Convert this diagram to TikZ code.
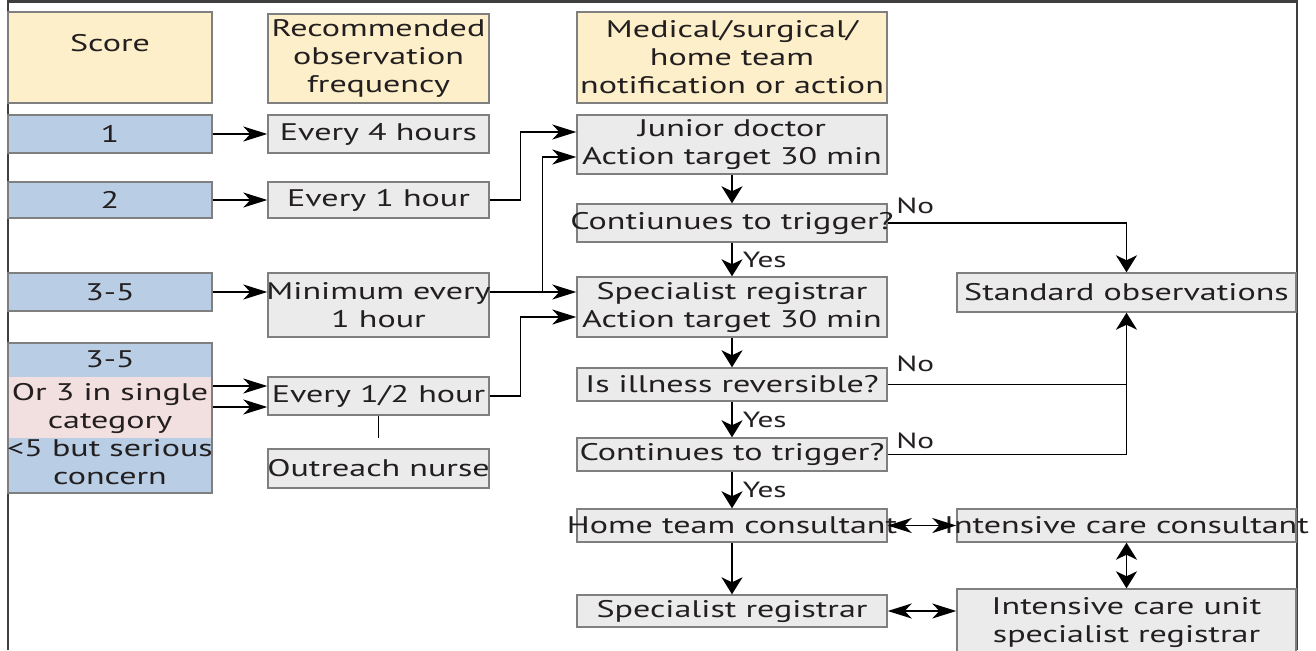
\documentclass[tikz,border=0pt]{standalone}
\usepackage{fontspec}
\setmainfont[FakeStretch=1.42]{PT Sans}
\usetikzlibrary{arrows.meta, calc}
\definecolor{ews0a}{HTML}{EBEBEB}
\definecolor{ews0d}{HTML}{7F7F7F}
\definecolor{ews1a}{HTML}{FDEFC9}
\definecolor{ews2a}{HTML}{B9CEE5}
\definecolor{ews3a}{HTML}{F2DFDF}
\definecolor{ewstx}{HTML}{231F20}

\begin{document}
\begin{tikzpicture}[x=1pt, y=-1pt,
    every node/.style={font=\fontsize{24}{28}\selectfont, text=ewstx, inner sep=0pt, align=center},
    box/.style={draw=ews0d, line width=1.4pt, rectangle, inner xsep=-20pt},
    hdr/.style={box, fill=ews1a},
    score/.style={box, fill=ews2a, minimum width=204pt},
    obs/.style={box, fill=ews0a, minimum width=221pt},
    act/.style={box, fill=ews0a, minimum width=310pt},
    ward/.style={box, fill=ews0a, minimum width=339pt},
    conn/.style={black, line width=1.5pt},
    harr/.style={conn, -{Stealth[length=24pt, width=15pt, inset=7pt]}},
    varr/.style={conn, -{Stealth[length=17pt, width=21pt, inset=5pt]}},
    hbi/.style={conn, {Stealth[length=24pt, width=15pt, inset=7pt]}-{Stealth[length=24pt, width=15pt, inset=7pt]}},
    vbi/.style={conn, {Stealth[length=17pt, width=21pt, inset=5pt]}-{Stealth[length=17pt, width=21pt, inset=5pt]}},
    lbl/.style={font=\fontsize{22}{24}\selectfont, inner sep=2pt}]
    \useasboundingbox (0,0) rectangle (1316,650);
    \draw[ews0d!50!black, line width=2.4pt] (8,650) -- (8,1.5) -- (1297,1.5) -- (1297,650);

    \node[hdr, minimum width=204pt, minimum height=91pt, text depth=30pt] (scorehd) at (110,57.5) {Score};
    \node[hdr, minimum width=221pt, minimum height=89pt] (obshd) at (378.5,58.5) {Recommended\\observation\\frequency};
    \node[hdr, minimum width=310pt, minimum height=91pt] (acthd) at (732,57.5) {Medical/surgical/\\home team\\notification or action};

    \node[score, minimum height=38pt] (s1) at (110,134) {1};
    \node[obs, minimum height=38pt] (f4) at (378.5,134) {Every 4 hours};
    \node[score, minimum height=36pt] (s2) at (110,200) {2};
    \node[obs, minimum height=36pt] (f1) at (378.5,200) {Every 1 hour};
    \node[score, minimum height=38pt] (s3) at (110,292) {3-5};
    \node[obs, minimum height=64pt] (fmin) at (378.5,305) {Minimum every\\1 hour};
    \fill[ews2a] (8,343) rectangle (212,493);
    \fill[ews3a] (8,377) rectangle (212,438);
    \node[box, minimum width=204pt, minimum height=150pt] (s4) at (110,418) {3-5\\[5pt]Or 3 in single\\category\\<5 but serious\\concern};
    \node[obs, minimum height=38pt] (fhalf) at (378.5,396) {Every 1/2 hour};
    \node[obs, minimum height=39pt] (nurse) at (378.5,468.5) {Outreach nurse};

    \node[act, minimum height=59pt] (jd) at (732,144.5) {Junior doctor\\Action target 30 min};
    \node[act, minimum height=38pt] (trig1) at (732,223) {Contiunues to trigger?};
    \node[act, minimum height=60pt] (sr) at (732,307) {Specialist registrar\\Action target 30 min};
    \node[act, minimum height=33pt] (rev) at (732,384.5) {Is illness reversible?};
    \node[act, minimum height=33pt] (trig2) at (732,454.5) {Continues to trigger?};
    \node[act, minimum height=33pt] (home) at (732,525.5) {Home team consultant};
    \node[act, minimum height=32pt] (spec) at (732,611) {Specialist registrar};
    \node[ward, minimum height=39pt] (std) at (1126.5,292.5) {Standard observations};
    \node[ward, minimum height=33pt] (icc) at (1126.5,525.5) {Intensive care consultant};
    \node[ward, minimum height=68pt] (icu) at (1126.5,623) {Intensive care unit\\specialist registrar};

    \coordinate (s4a) at ([yshift=32pt]s4.east);
    \coordinate (s4b) at ([yshift=11pt]s4.east);
    \coordinate (jn) at ($(fmin.east)+(53,0)$);
    \coordinate (jd1) at ([yshift=12.5pt]jd.west);
    \coordinate (jd2) at ([yshift=-12.5pt]jd.west);
    \coordinate (sr2) at ([yshift=-10pt]sr.west);

    \draw[harr] (s1) -- (f4);
    \draw[harr] (s2) -- (f1);
    \draw[harr] (s3) -- (s3 -| fmin.west);
    \draw[harr] (s4a) -- (s4a -| fhalf.west);
    \draw[harr] (s4b) -- (s4b -| fhalf.west);
    \draw[conn] (fhalf.south) -- ++(0,22);

    \draw[harr] (f1.east) -- ++(31,0) |- (jd1);
    \draw[harr] (fmin.east |- s3) -- (sr.west |- s3);
    \draw[harr] (jn |- s3) |- (jd2);
    \draw[harr] (fhalf.east) -- ++(31,0) |- (sr2);

    \draw[varr] (jd) -- (trig1);
    \draw[varr] (trig1) -- node[lbl, anchor=west, xshift=8pt] {Yes} (sr);
    \draw[varr] (sr) -- (rev);
    \draw[varr] (rev) -- node[lbl, anchor=west, xshift=8pt] {Yes} (trig2);
    \draw[varr] (trig2) -- node[lbl, anchor=west, xshift=8pt] {Yes} (home);
    \draw[varr] (home) -- (spec);

    \draw[varr] (trig1.east) -| node[lbl, pos=0, anchor=south west, xshift=6pt, yshift=6pt] {No} (std.north);
    \draw[varr] (rev.east) -| node[lbl, pos=0, anchor=south west, xshift=6pt, yshift=10pt] {No} (std.south);
    \draw[conn] (trig2.east) -| node[lbl, pos=0, anchor=south west, xshift=6pt, yshift=3pt] {No} (std.south);

    \draw[hbi] (home) -- (icc);
    \draw[vbi] (icc) -- (icu);
    \draw[hbi] (spec) -- (spec -| icu.west);
\end{tikzpicture}
\end{document}
